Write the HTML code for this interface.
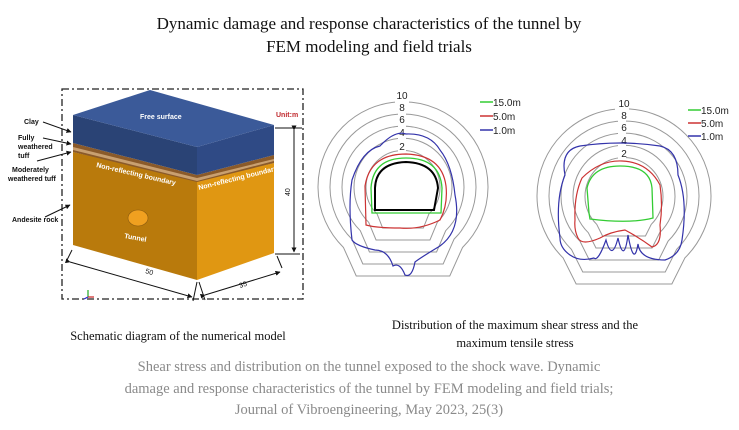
<!DOCTYPE html>
<html><head><meta charset="utf-8"><style>
html,body{margin:0;padding:0;background:#fff;width:739px;height:430px;overflow:hidden}
</style></head><body>
<svg width="739" height="430" viewBox="0 0 739 430" xmlns="http://www.w3.org/2000/svg">
<defs><marker id="ar" viewBox="0 0 10 10" refX="9" refY="5" markerWidth="5" markerHeight="5" orient="auto"><path d="M0,0L10,5L0,10z" fill="#111"/></marker></defs>
<g font-family="Liberation Serif, serif" fill="#111" text-anchor="middle">
<text x="369" y="29" font-size="17">Dynamic damage and response characteristics of the tunnel by</text>
<text x="369" y="52" font-size="17">FEM modeling and field trials</text>
<text x="178" y="340" font-size="12.5">Schematic diagram of the numerical model</text>
<text x="515" y="329" font-size="12.5">Distribution of the maximum shear stress and the</text>
<text x="515" y="347" font-size="12.5">maximum tensile stress</text>
</g>
<g font-family="Liberation Serif, serif" fill="#8a8a8a" text-anchor="middle" font-size="14.5">
<text x="369" y="371">Shear stress and distribution on the tunnel exposed to the shock wave. Dynamic</text>
<text x="369" y="393">damage and response characteristics of the tunnel by FEM modeling and field trials;</text>
<text x="369" y="414">Journal of Vibroengineering, May 2023, 25(3)</text>
</g>
<!-- left model -->
<rect x="62" y="89" width="241" height="210" fill="none" stroke="#222" stroke-width="1.3" stroke-dasharray="7,3,2,3"/>
<polygon points="73,152 197,180 197,280 73,245" fill="#b97a0c"/>
<polygon points="197,180 274,163 274,253 197,280" fill="#e09712"/>
<polygon points="73,143 197,175 274,155 274,163 197,182 73,152" fill="#8a5a2a"/>
<polygon points="73,147 197,178 274,159 274,161 197,181 73,150" fill="#c9a070"/>
<polygon points="73,115 197,147 197,175 73,143" fill="#2a4375"/>
<polygon points="197,147 274,125 274,155 197,175" fill="#2f4a85"/>
<polygon points="73,115 150,90 274,125 197,147" fill="#3b5a99"/>
<ellipse cx="138" cy="218" rx="10" ry="8" fill="#f0a020" stroke="#8a5a10" stroke-width="0.6"/>
<g font-family="Liberation Sans, sans-serif" font-weight="bold" font-size="7" fill="#fff">
<text x="140" y="119">Free surface</text>
<text x="96" y="167" transform="rotate(13 96 167)">Non-reflecting boundary</text>
<text x="199" y="190" transform="rotate(-14 199 190)">Non-reflecting boundary</text>
<text x="124" y="238" transform="rotate(10 124 238)">Tunnel</text>
</g>
<text x="276" y="117" font-family="Liberation Sans, sans-serif" font-weight="bold" font-size="7" fill="#c0282d">Unit:m</text>
<g stroke="#111" stroke-width="1" fill="none">
<line x1="275" y1="128" x2="302" y2="128"/><line x1="275" y1="254" x2="300" y2="254"/>
<line x1="294" y1="130" x2="294" y2="252" marker-start="url(#ar)" marker-end="url(#ar)"/>
<line x1="72" y1="250" x2="66" y2="262"/><line x1="197" y1="282" x2="193" y2="301"/><line x1="199" y1="282" x2="205" y2="300"/><line x1="277" y1="256" x2="282" y2="268"/>
<line x1="70" y1="262" x2="192" y2="297" marker-start="url(#ar)" marker-end="url(#ar)"/>
<line x1="205" y1="295" x2="280" y2="272" marker-start="url(#ar)" marker-end="url(#ar)"/>
<line x1="43" y1="122" x2="71" y2="132" marker-end="url(#ar)"/>
<line x1="43" y1="138" x2="71" y2="144" marker-end="url(#ar)"/>
<line x1="37" y1="161" x2="71" y2="152" marker-end="url(#ar)"/>
<line x1="45" y1="217" x2="70" y2="205" marker-end="url(#ar)"/>
</g>
<g font-family="Liberation Sans, sans-serif" font-weight="bold" font-size="7" fill="#111">
<text x="24" y="124">Clay</text>
<text x="18" y="140">Fully</text><text x="18" y="149">weathered</text><text x="18" y="158">tuff</text>
<text x="12" y="172">Moderately</text><text x="8" y="181">weathered tuff</text>
<text x="12" y="222">Andesite rock</text>
<text x="145" y="273" transform="rotate(16 145 273)" font-weight="normal">50</text>
<text x="240" y="288" transform="rotate(-18 240 288)" font-weight="normal">35</text>
<text x="290" y="196" transform="rotate(-90 290 196)" font-weight="normal">40</text>
</g>
<g stroke-width="1.2"><line x1="88" y1="297" x2="88" y2="290" stroke="#2a2"/><line x1="88" y1="297" x2="94" y2="297" stroke="#c22"/><line x1="88" y1="297" x2="84" y2="299" stroke="#22c"/></g>
<!-- polar rings -->
<g fill="none" stroke="#999" stroke-width="1">
<path d="M343.5,247.5 A85,85 0 1,1 462.5,247.5 L449.75,276 L356.25,276 Z"/>
<path d="M351.9,239.1 A73,73 0 1,1 454.1,239.1 L443.15,264 L362.85,264 Z"/>
<path d="M360.3,230.7 A61,61 0 1,1 445.7,230.7 L436.55,252 L369.45,252 Z"/>
<path d="M368.7,222.3 A49,49 0 1,1 437.3,222.3 L429.95,240 L376.05,240 Z"/>
<path d="M377.1,213.9 A37,37 0 1,1 428.9,213.9 L423.35,228 L382.65,228 Z"/>
<path d="M563.1,257.9 A87,87 0 1,1 684.9,257.9 L671.85,284 L576.15,284 Z"/>
<path d="M571.5,249.5 A75,75 0 1,1 676.5,249.5 L665.25,272 L582.75,272 Z"/>
<path d="M579.9,241.1 A63,63 0 1,1 668.1,241.1 L658.65,260 L589.35,260 Z"/>
<path d="M588.3,232.7 A51,51 0 1,1 659.7,232.7 L652.05,248 L595.95,248 Z"/>
<path d="M596.7,224.3 A39,39 0 1,1 651.3,224.3 L645.45,236 L602.55,236 Z"/>
</g>
<g fill="#fff">
<rect x="395" y="100" width="14" height="8"/><rect x="398" y="112" width="8" height="8"/><rect x="398" y="124" width="8" height="8"/><rect x="398" y="137" width="8" height="8"/><rect x="398" y="149" width="8" height="6"/>
<rect x="615" y="108" width="14" height="8"/><rect x="618" y="120" width="8" height="7"/><rect x="618" y="132" width="8" height="7"/><rect x="618" y="144" width="8" height="7"/><rect x="618" y="156" width="8" height="6"/>
</g>
<g font-family="Liberation Sans, sans-serif" font-size="10" fill="#222" text-anchor="middle">
<text x="402" y="99">10</text><text x="402" y="111">8</text><text x="402" y="123">6</text><text x="402" y="136">4</text><text x="402" y="150">2</text>
<text x="624" y="107">10</text><text x="624" y="119">8</text><text x="624" y="131">6</text><text x="624" y="144">4</text><text x="624" y="157">2</text>
</g>
<!-- left curves -->
<path d="M375,210 L375,188 Q376,163 406,162 Q436,163 438,188 L434,210 Z" fill="none" stroke="#000" stroke-width="2"/>
<path d="M372,213 L371,188 Q373,158 406,158 Q440,158 442,188 L441,213 Z" fill="none" stroke="#3c3" stroke-width="1.3"/>
<path d="M366,225 L365,186 Q370,154 406,154 Q442,155 446,186 Q448,205 440,220 Q420,230 400,228 Q376,228 366,225 Z" fill="none" stroke="#c33" stroke-width="1.2"/>
<path d="M352,240 Q348,205 352,180 Q362,150 380,146 Q395,130 406,134 Q430,133 440,150 Q452,165 455,195 Q462,230 440,246 Q420,258 415,262 Q412,278 405,275 Q400,262 393,266 Q388,250 375,250 Q356,246 352,240 Z" fill="none" stroke="#33a" stroke-width="1.2"/>
<!-- right curves -->
<path d="M589,213 L587,188 Q592,166 620,166 Q650,166 652,188 L653,218 Q630,224 590,219 Z" fill="none" stroke="#3c3" stroke-width="1.3"/>
<path d="M575,220 Q574,195 582,178 Q600,160 622,161 Q648,162 660,185 Q663,205 660,225 Q662,245 652,247 Q640,238 625,230 Q610,232 600,238 Q582,246 578,238 Q574,230 575,220 Z" fill="none" stroke="#c33" stroke-width="1.2"/>
<path d="M560,238 Q555,200 565,175 Q560,150 580,146 Q620,140 660,146 Q678,150 678,175 Q688,200 682,240 Q680,255 665,260 Q640,260 638,244 Q634,268 628,235 Q624,265 618,238 Q612,262 606,240 Q598,262 594,258 Q580,262 570,255 Q560,248 560,238 Z" fill="none" stroke="#33a" stroke-width="1.2"/>
<!-- legends -->
<g stroke-width="1.5"><line x1="480" y1="102" x2="493" y2="102" stroke="#3c3"/><line x1="480" y1="116" x2="493" y2="116" stroke="#c33"/><line x1="480" y1="130" x2="493" y2="130" stroke="#33a"/>
<line x1="688" y1="110" x2="701" y2="110" stroke="#3c3"/><line x1="688" y1="123" x2="701" y2="123" stroke="#c33"/><line x1="688" y1="136" x2="701" y2="136" stroke="#33a"/></g>
<g font-family="Liberation Sans, sans-serif" font-size="10" fill="#222">
<text x="493" y="106">15.0m</text><text x="493" y="120">5.0m</text><text x="493" y="134">1.0m</text>
<text x="701" y="114">15.0m</text><text x="701" y="127">5.0m</text><text x="701" y="140">1.0m</text>
</g>
</svg>
</body></html>
